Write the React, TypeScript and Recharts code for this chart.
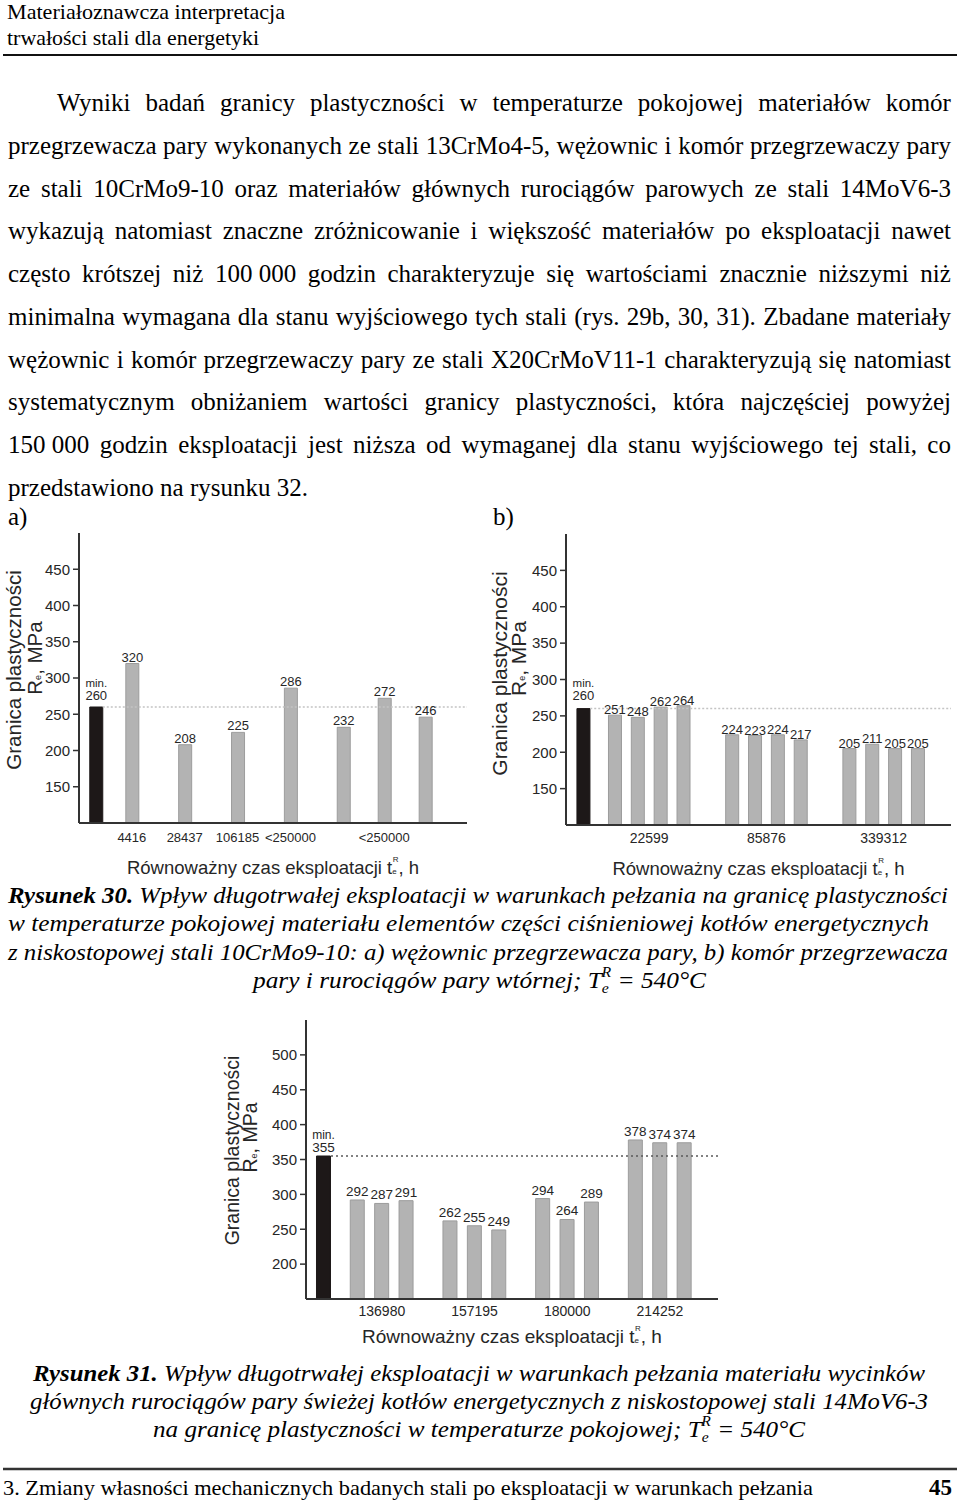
import React from "react";
import {
  BarChart,
  Bar,
  XAxis,
  YAxis,
  Cell,
  LabelList,
  ReferenceLine,
} from "recharts";

const SERIF = '"Liberation Serif", "Times New Roman", serif';
const SANS = '"Liberation Sans", Arial, sans-serif';
const INK = "#262626";
const FRAME = "#333333";

// Rys. 30a - wężownice przegrzewacza pary
const minA = 260;
const labelsA = ["4416", "28437", "106185", "<250000", "<250000"];
const valuesA = [[320], [208], [225], [286], [232, 272, 246]];

// Rys. 30b - komory przegrzewacza i rurociągi pary wtórnej
const minB = 260;
const labelsB = ["22599", "85876", "339312"];
const valuesB = [
  [251, 248, 262, 264],
  [224, 223, 224, 217],
  [205, 211, 205, 205],
];

// Rys. 31 - rurociągi pary świeżej 14MoV6-3
const minC = 355;
const labelsC = ["136980", "157195", "180000", "214252"];
const valuesC = [
  [292, 287, 291],
  [262, 255, 249],
  [294, 264, 289],
  [378, 374, 374],
];

const yTicksAB = [150, 200, 250, 300, 350, 400, 450];
const yTicksC = [200, 250, 300, 350, 400, 450, 500];

const headerLines = [
  "Materiałoznawcza interpretacja",
  "trwałości stali dla energetyki",
];

const bodyLines = [
  "Wyniki badań granicy plastyczności w temperaturze pokojowej materiałów komór",
  "przegrzewacza pary wykonanych ze stali 13CrMo4-5, wężownic i komór przegrzewaczy pary",
  "ze stali 10CrMo9-10 oraz materiałów głównych rurociągów parowych ze stali 14MoV6-3",
  "wykazują natomiast znaczne zróżnicowanie i większość materiałów po eksploatacji nawet",
  "często krótszej niż 100\u00A0000 godzin charakteryzuje się wartościami znacznie niższymi niż",
  "minimalna wymagana dla stanu wyjściowego tych stali (rys. 29b, 30, 31). Zbadane materiały",
  "wężownic i komór przegrzewaczy pary ze stali X20CrMoV11-1 charakteryzują się natomiast",
  "systematycznym obniżaniem wartości granicy plastyczności, która najczęściej powyżej",
  "150\u00A0000 godzin eksploatacji jest niższa od wymaganej dla stanu wyjściowego tej stali, co",
];
const bodyLastLine = "przedstawiono na rysunku 32.";

const footerText =
  "3. Zmiany własności mechanicznych badanych stali po eksploatacji w warunkach pełzania";

interface Row {
  x: number;
  value: number;
}

// lays the bars out: the "min." bar first, then each group of samples
const buildRows = (
  minValue: number,
  groups: number[][],
  minGap: number,
  groupGap: number
) => {
  const rows: Row[] = [{ x: 0, value: minValue }];
  const ticks: number[] = [];
  let start = minGap;
  groups.forEach((g) => {
    g.forEach((v, i) => rows.push({ x: start + i, value: v }));
    const end = start + g.length - 1;
    ticks.push((start + end) / 2);
    start = end + groupGap;
  });
  return { rows, ticks };
};

interface ChartCfg {
  min: number;
  groups: number[][];
  labels: string[];
  minGap: number;
  groupGap: number;
  padLeft: number;
  padRight: number;
  lineStart: number;
  yDomain: [number, number];
  yTicks: number[];
  width: number;
  height: number;
  top: number;
  right: number;
  yAxisWidth: number;
  xAxisHeight: number;
  tickGap: number;
  xTickSize: number;
  barSize: number;
  lineColor: string;
  lineDash: string;
  title1X: number;
  title1Dy: number;
  title2X: number;
  title2Dy: number;
  titleSize: number;
  xTitleDy: number;
  xTitleSize: number;
  valueSize: number;
  valueLift: number;
  minLift: number;
  minWordLift: number;
}

const YTitle = (props: any) => {
  const { viewBox, cfg } = props;
  const x0 = viewBox?.x ?? 0;
  const cy = (viewBox?.y ?? 0) + (viewBox?.height ?? 0) / 2;
  const x1 = x0 + cfg.title1X;
  const y1 = cy + cfg.title1Dy;
  const x2 = x0 + cfg.title2X;
  const y2 = cy + cfg.title2Dy;
  return (
    <g fill={INK} fontFamily={SANS} fontSize={cfg.titleSize}>
      <text
        x={x1}
        y={y1}
        transform={`rotate(-90 ${x1} ${y1})`}
        textAnchor="middle"
        dominantBaseline="central"
      >
        Granica plastyczności
      </text>
      <text
        x={x2}
        y={y2}
        transform={`rotate(-90 ${x2} ${y2})`}
        textAnchor="middle"
        dominantBaseline="central"
      >
        R
        <tspan fontSize={9} dy={4}>
          e
        </tspan>
        <tspan dy={-4}>, MPa</tspan>
      </text>
    </g>
  );
};

const XTitle = (props: any) => {
  const { viewBox, cfg } = props;
  const cx = (viewBox?.x ?? 0) + (viewBox?.width ?? 0) / 2;
  const cy = (viewBox?.y ?? 0) + cfg.xTitleDy;
  return (
    <text
      x={cx}
      y={cy}
      textAnchor="middle"
      dominantBaseline="central"
      fill={INK}
      fontFamily={SANS}
      fontSize={cfg.xTitleSize}
    >
      Równoważny czas eksploatacji t
      <tspan fontSize={8} dy={4}>
        e
      </tspan>
      <tspan fontSize={8} dx={-4} dy={-12}>
        R
      </tspan>
      <tspan dy={8}>, h</tspan>
    </text>
  );
};

const makeValueLabel = (cfg: ChartCfg) => (props: any) => {
  const vb = props.viewBox || props;
  const x = Number(vb.x ?? props.x);
  const y = Number(vb.y ?? props.y);
  const w = Number(vb.width ?? props.width);
  const cx = x + w / 2;
  if (props.index === 0) {
    return (
      <g fill={INK} fontFamily={SANS} textAnchor="middle">
        <text x={cx} y={y - cfg.minWordLift} fontSize={cfg.valueSize - 1.5}>
          min.
        </text>
        <text x={cx} y={y - cfg.minLift} fontSize={cfg.valueSize}>
          {props.value}
        </text>
      </g>
    );
  }
  return (
    <text
      x={cx}
      y={y - cfg.valueLift}
      textAnchor="middle"
      fill={INK}
      fontFamily={SANS}
      fontSize={cfg.valueSize}
    >
      {props.value}
    </text>
  );
};

const YieldChart = ({ cfg }: { cfg: ChartCfg }) => {
  const { rows, ticks } = buildRows(
    cfg.min,
    cfg.groups,
    cfg.minGap,
    cfg.groupGap
  );
  const lastX = rows[rows.length - 1].x;
  const xDomain: [number, number] = [-cfg.padLeft, lastX + cfg.padRight];
  const axisLine = { stroke: FRAME, strokeWidth: 2 };
  const yTickFont = { fill: INK, fontSize: 15, fontFamily: SANS };
  const xTickFont = { fill: INK, fontSize: cfg.xTickSize, fontFamily: SANS };

  return (
    <BarChart
      width={cfg.width}
      height={cfg.height}
      data={rows}
      margin={{ top: cfg.top, right: cfg.right, bottom: 0, left: 0 }}
    >
      <XAxis
        xAxisId="top"
        orientation="top"
        type="number"
        dataKey="x"
        domain={xDomain}
        allowDataOverflow
        height={0}
        tick={false}
        tickLine={false}
        axisLine={axisLine}
      />
      <XAxis
        type="number"
        dataKey="x"
        domain={xDomain}
        allowDataOverflow
        ticks={ticks}
        interval={0}
        tickFormatter={(_v: number, i: number) => cfg.labels[i]}
        tickLine={false}
        tickSize={0}
        tickMargin={cfg.tickGap}
        height={cfg.xAxisHeight}
        axisLine={axisLine}
        tick={xTickFont}
        label={<XTitle cfg={cfg} />}
      />
      <YAxis
        type="number"
        domain={cfg.yDomain}
        allowDataOverflow
        ticks={cfg.yTicks}
        interval={0}
        width={cfg.yAxisWidth}
        tickSize={6}
        tickMargin={3}
        tickLine={{ stroke: FRAME, strokeWidth: 1.5 }}
        axisLine={axisLine}
        tick={yTickFont}
        label={<YTitle cfg={cfg} />}
      />
      <YAxis
        yAxisId="right"
        orientation="right"
        type="number"
        domain={cfg.yDomain}
        allowDataOverflow
        width={0}
        tick={false}
        tickLine={false}
        axisLine={axisLine}
      />
      <ReferenceLine
        segment={[
          { x: cfg.lineStart, y: cfg.min },
          { x: xDomain[1], y: cfg.min },
        ]}
        stroke={cfg.lineColor}
        strokeWidth={1.5}
        strokeDasharray={cfg.lineDash}
        ifOverflow="visible"
      />
      <Bar dataKey="value" barSize={cfg.barSize} isAnimationActive={false}>
        {rows.map((r, i) => (
          <Cell
            key={i}
            fill={i === 0 ? "#1d1818" : "#b3b3b3"}
            stroke={i === 0 ? "#1d1818" : "#9c9c9c"}
            strokeWidth={1}
          />
        ))}
        <LabelList dataKey="value" content={makeValueLabel(cfg)} />
      </Bar>
    </BarChart>
  );
};

const chartA: ChartCfg = {
  min: minA,
  groups: valuesA,
  labels: labelsA,
  minGap: 0.88,
  groupGap: 1.29,
  padLeft: 0.41,
  padRight: 1.02,
  lineStart: 0.17,
  yDomain: [100, 500],
  yTicks: yTicksAB,
  width: 480,
  height: 365,
  top: 13,
  right: 13,
  yAxisWidth: 79,
  xAxisHeight: 62,
  tickGap: 10,
  xTickSize: 13,
  barSize: 13,
  lineColor: "#c4c4c4",
  lineDash: "2 2",
  title1X: 13,
  title1Dy: -8,
  title2X: 34,
  title2Dy: -20,
  titleSize: 20.5,
  xTitleDy: 44,
  xTitleSize: 18.5,
  valueSize: 13,
  valueLift: 2,
  minLift: 7,
  minWordLift: 20,
};

const chartB: ChartCfg = {
  min: minB,
  groups: valuesB,
  labels: labelsB,
  minGap: 1.38,
  groupGap: 2.13,
  padLeft: 0.76,
  padRight: 1.45,
  lineStart: 0.3,
  yDomain: [100, 500],
  yTicks: yTicksAB,
  width: 480,
  height: 365,
  top: 14,
  right: 9,
  yAxisWidth: 86,
  xAxisHeight: 60,
  tickGap: 8,
  xTickSize: 14,
  barSize: 13,
  lineColor: "#c4c4c4",
  lineDash: "2 2",
  title1X: 19,
  title1Dy: -6,
  title2X: 38,
  title2Dy: -21,
  titleSize: 21,
  xTitleDy: 43,
  xTitleSize: 18.5,
  valueSize: 13,
  valueLift: 1,
  minLift: 9,
  minWordLift: 22,
};

const chartC: ChartCfg = {
  min: minC,
  groups: valuesC,
  labels: labelsC,
  minGap: 1.385,
  groupGap: 1.8,
  padLeft: 0.725,
  padRight: 1.38,
  lineStart: 0.3,
  yDomain: [150, 550],
  yTicks: yTicksC,
  width: 520,
  height: 350,
  top: 15,
  right: 12,
  yAxisWidth: 96,
  xAxisHeight: 56,
  tickGap: 7,
  xTickSize: 14,
  barSize: 14,
  lineColor: "#5a5a5a",
  lineDash: "2 3",
  title1X: 22,
  title1Dy: -9,
  title2X: 40,
  title2Dy: -22,
  titleSize: 19.5,
  xTitleDy: 37,
  xTitleSize: 19,
  valueSize: 13.5,
  valueLift: 4,
  minLift: 4,
  minWordLift: 17,
};

const BODY_TOP = 111;
const BODY_STEP = 42.75;

export default function App() {
  return (
    <div
      style={{
        position: "absolute",
        left: 0,
        top: 0,
        width: 960,
        height: 1502,
        background: "#fff",
        overflow: "hidden",
        color: "#000",
      }}
    >
      <svg
        width={960}
        height={1502}
        style={{ position: "absolute", left: 0, top: 0 }}
        fontFamily={SERIF}
      >
        {/* header */}
        <text x={7} y={19} fontSize={22} textLength={278} lengthAdjust="spacingAndGlyphs">
          {headerLines[0]}
        </text>
        <text x={7} y={45} fontSize={22} textLength={252} lengthAdjust="spacingAndGlyphs">
          {headerLines[1]}
        </text>
        <line x1={3} x2={957} y1={55} y2={55} stroke="#111" strokeWidth={2} />

        <text x={8} y={525} fontSize={25}>
          a)
        </text>
        <text x={493} y={525} fontSize={25}>
          b)
        </text>

        {/* caption 30 */}
        <g fontSize={24} fontStyle="italic" textAnchor="middle">
          <text x={478} y={903} textLength={940} lengthAdjust="spacingAndGlyphs">
            <tspan fontWeight="bold">Rysunek 30.</tspan> Wpływ długotrwałej
            eksploatacji w warunkach pełzania na granicę plastyczności
          </text>
          <text x={468.5} y={931} textLength={921} lengthAdjust="spacingAndGlyphs">
            w temperaturze pokojowej materiału elementów części ciśnieniowej
            kotłów energetycznych
          </text>
          <text x={478} y={960} textLength={940} lengthAdjust="spacingAndGlyphs">
            z niskostopowej stali 10CrMo9-10: a) wężownic przegrzewacza pary, b)
            komór przegrzewacza
          </text>
          <text x={479.5} y={988} textLength={453} lengthAdjust="spacingAndGlyphs">
            pary i rurociągów pary wtórnej; T
            <tspan fontSize={15} dy={5}>
              e
            </tspan>
            <tspan fontSize={15} dx={-7} dy={-16}>
              R
            </tspan>
            <tspan dy={11}>{" = 540°C"}</tspan>
          </text>
        </g>

        {/* caption 31 */}
        <g fontSize={24} fontStyle="italic" textAnchor="middle">
          <text x={479} y={1381} textLength={892} lengthAdjust="spacingAndGlyphs">
            <tspan fontWeight="bold">Rysunek 31.</tspan> Wpływ długotrwałej
            eksploatacji w warunkach pełzania materiału wycinków
          </text>
          <text x={479} y={1409} textLength={898} lengthAdjust="spacingAndGlyphs">
            głównych rurociągów pary świeżej kotłów energetycznych z
            niskostopowej stali 14MoV6-3
          </text>
          <text x={479} y={1437} textLength={652} lengthAdjust="spacingAndGlyphs">
            na granicę plastyczności w temperaturze pokojowej; T
            <tspan fontSize={15} dy={5}>
              e
            </tspan>
            <tspan fontSize={15} dx={-7} dy={-16}>
              R
            </tspan>
            <tspan dy={11}>{" = 540°C"}</tspan>
          </text>
        </g>

        {/* footer */}
        <line x1={3} x2={957} y1={1469} y2={1469} stroke="#333" strokeWidth={2.5} />
        <text x={3} y={1495} fontSize={22} textLength={810} lengthAdjust="spacingAndGlyphs">
          {footerText}
        </text>
        <text x={952} y={1495} fontSize={23} fontWeight="bold" textAnchor="end">
          45
        </text>
      </svg>

      {bodyLines.map((line, i) => (
        <div
          key={i}
          style={{
            position: "absolute",
            left: i === 0 ? 57 : 8,
            width: i === 0 ? 894 : 943,
            top: BODY_TOP + i * BODY_STEP - 21,
            height: 25,
            lineHeight: "25px",
            fontSize: 25,
            fontFamily: SERIF,
            display: "flex",
            justifyContent: "space-between",
            whiteSpace: "nowrap",
          }}
        >
          {line.split(" ").map((w, j) => (
            <span key={j}>{w}</span>
          ))}
        </div>
      ))}
      <div
        style={{
          position: "absolute",
          left: 8,
          top: BODY_TOP + bodyLines.length * BODY_STEP - 21,
          lineHeight: "25px",
          fontSize: 25,
          fontFamily: SERIF,
          whiteSpace: "nowrap",
        }}
      >
        {bodyLastLine}
      </div>

      <div style={{ position: "absolute", left: 0, top: 520 }}>
        <YieldChart cfg={chartA} />
      </div>
      <div style={{ position: "absolute", left: 480, top: 520 }}>
        <YieldChart cfg={chartB} />
      </div>
      <div style={{ position: "absolute", left: 210, top: 1005 }}>
        <YieldChart cfg={chartC} />
      </div>
    </div>
  );
}
